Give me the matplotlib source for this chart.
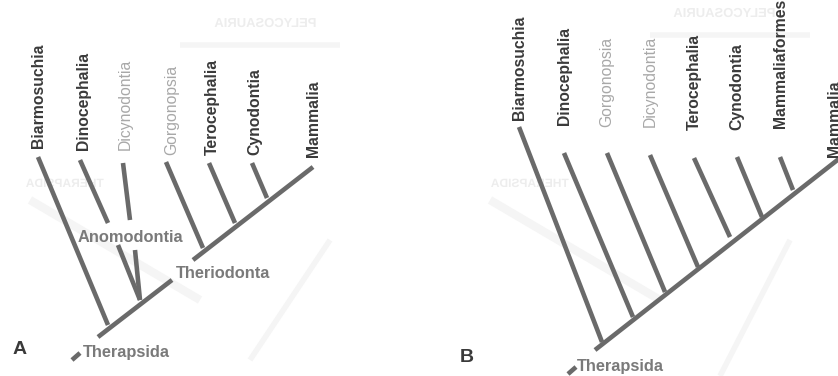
import matplotlib
matplotlib.use("Agg")
import matplotlib.pyplot as plt
from matplotlib.textpath import TextPath
from matplotlib.patches import PathPatch
from matplotlib.font_manager import FontProperties
from matplotlib.transforms import Affine2D

# ---- Panel A: Therapsida with Anomodontia and Theriodonta ----
a_taxa = ["Biarmosuchia", "Dinocephalia", "Dicynodontia", "Gorgonopsia",
          "Terocephalia", "Cynodontia", "Mammalia"]
a_faded = [False, False, True, True, False, False, False]
a_label_x = [39, 83, 125, 172, 212, 255, 313]
a_label_y = [148, 150, 150, 155, 155, 155, 157]
# branch tips and the points where they meet the stem
a_tip_x = [38, 80, 123, 166, 209, 252]
a_tip_y = [157, 160, 163, 162, 163, 163]
a_base_x = [108, 108, 130, 203, 235, 267]
a_base_y = [325, 223, 220, 248, 223, 198]
a_stem = [(98, 337, 172, 280), (193, 260, 313, 167)]
a_anomo = [(118, 245, 140, 300), (135, 250, 140, 300)]
a_root = (72, 360, 80, 353)

# ---- Panel B: Therapsida as a single comb ----
b_taxa = ["Biarmosuchia", "Dinocephalia", "Gorgonopsia", "Dicynodontia",
          "Terocephalia", "Cynodontia", "Mammaliaformes", "Mammalia"]
b_faded = [False, False, True, True, False, False, False, False]
b_label_x = [519, 564, 607, 650, 694, 737, 780, 834]
b_label_y = [120, 125, 127, 127, 130, 130, 128, 157]
b_tip_x = [519, 564, 607, 650, 694, 737, 780]
b_tip_y = [127, 153, 153, 155, 158, 157, 157]
b_base_x = [602, 633, 665, 698, 730, 762, 793]
b_base_y = [342, 317, 292, 267, 237, 217, 190]
b_stem = (595, 350, 840, 158)
b_root = (568, 374, 576, 367)

BRANCH = "#6a6a6a"
DARK = "#3a3a3a"
FADED = "#a8a8a8"
NODE = "#7a7a7a"
LW = 3.3
FONT = "Liberation Sans"

fig = plt.figure(figsize=(8.38, 3.76), dpi=100)
ax = fig.add_axes([0, 0, 1, 1])
ax.set_xlim(0, 838)
ax.set_ylim(376, 0)
ax.axis("off")


def ghost_text(s, x, y, size):
    # faint mirrored lettering showing through the page
    fp = FontProperties(family=FONT, weight="bold")
    tp = TextPath((0, 0), s, size=size, prop=fp)
    w = tp.get_extents().width
    tr = Affine2D().translate(-w / 2, 0).scale(-1, -1).translate(x, y)
    ax.add_patch(PathPatch(tr.transform_path(tp), fc="#ededed", ec="none", zorder=0))


def ghost_line(x0, y0, x1, y1, lw=6):
    ax.plot([x0, x1], [y0, y1], color="#f5f5f5", lw=lw, solid_capstyle="butt", zorder=0)


# show-through from the reverse side of the page
ghost_text("PELYCOSAURIA", 266, 27, 13)
ghost_line(180, 45, 340, 45, 4)
ghost_text("THERAPSIDA", 65, 187, 12)
ghost_line(30, 200, 200, 300, 6)
ghost_line(250, 360, 330, 240, 4)
ghost_text("PELYCOSAURIA", 725, 17, 13)
ghost_line(650, 35, 810, 35, 4)
ghost_text("THERAPSIDA", 530, 187, 12)
ghost_line(490, 200, 660, 300, 6)
ghost_line(720, 376, 790, 240, 4)


def seg(x0, y0, x1, y1):
    ax.plot([x0, x1], [y0, y1], color=BRANCH, lw=LW, solid_capstyle="butt", zorder=2)


def tip_labels(names, faded, xs, ys):
    for name, f, x, y in zip(names, faded, xs, ys):
        ax.text(x, y, name, rotation=90, ha="center", va="bottom",
                fontsize=11.3, family=FONT,
                fontweight="normal" if f else "bold",
                color=FADED if f else DARK, zorder=3)


# Panel A
for x0, y0, x1, y1 in zip(a_tip_x, a_tip_y, a_base_x, a_base_y):
    seg(x0, y0, x1, y1)
for s in a_stem + a_anomo:
    seg(*s)
seg(*a_root)
tip_labels(a_taxa, a_faded, a_label_x, a_label_y)
ax.text(78, 237, "Anomodontia", ha="left", va="center", fontsize=11.8,
        family=FONT, fontweight="bold", color=NODE, zorder=3)
ax.text(176, 274, "Theriodonta", ha="left", va="center", fontsize=11.8,
        family=FONT, fontweight="bold", color=NODE, zorder=3)
ax.text(83, 353, "Therapsida", ha="left", va="center", fontsize=11.8,
        family=FONT, fontweight="bold", color=NODE, zorder=3)
ax.text(20, 350, "A", ha="center", va="center", fontsize=14,
        family=FONT, fontweight="bold", color=DARK)

# Panel B
for x0, y0, x1, y1 in zip(b_tip_x, b_tip_y, b_base_x, b_base_y):
    seg(x0, y0, x1, y1)
seg(*b_stem)
seg(*b_root)
tip_labels(b_taxa, b_faded, b_label_x, b_label_y)
ax.text(577, 367, "Therapsida", ha="left", va="center", fontsize=11.8,
        family=FONT, fontweight="bold", color=NODE, zorder=3)
ax.text(467, 358, "B", ha="center", va="center", fontsize=14,
        family=FONT, fontweight="bold", color=DARK)

fig.savefig("out.png", dpi=100)
